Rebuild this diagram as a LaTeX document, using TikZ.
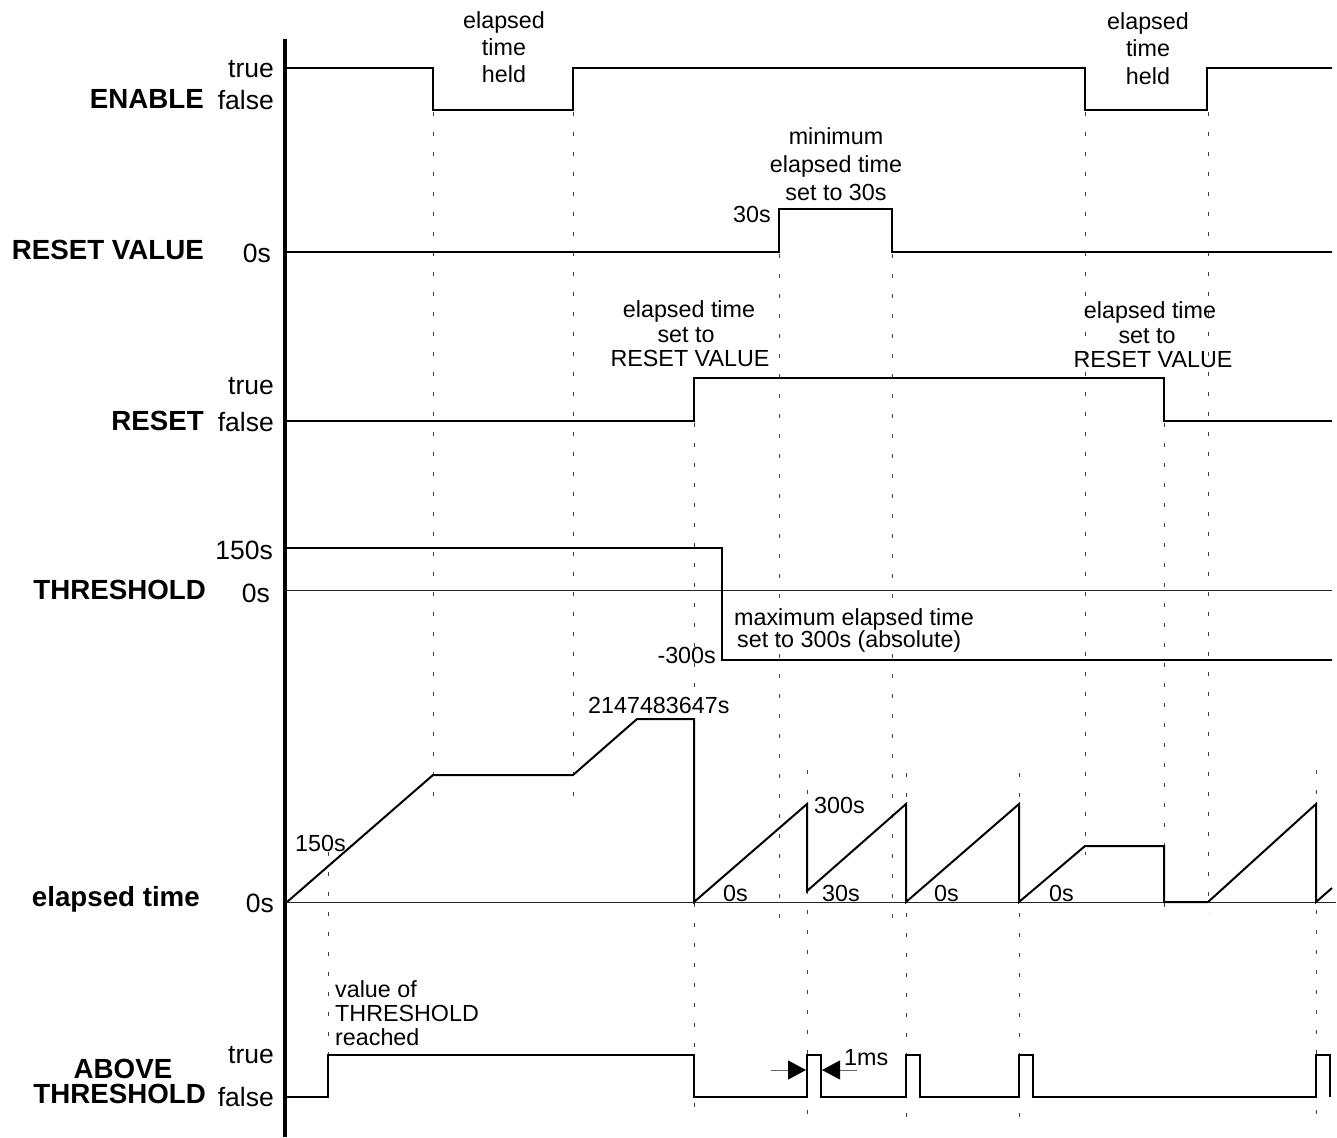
\documentclass[tikz,border=0pt]{standalone}
\usepackage{fontspec}
\setmainfont{Liberation Sans}
\usetikzlibrary{arrows.meta}
\begin{document}
\begin{tikzpicture}[x=1pt,y=-1pt,
  sig/.style={line width=2pt, line join=miter},
  zeroline/.style={line width=1pt, black!85},
  guide/.style={line width=1pt, dash pattern=on 4pt off 16pt, black!75},
  lbl/.style={font=\fontsize{23.3}{26}\selectfont, inner sep=0pt},
  lvl/.style={font=\fontsize{26.5}{30}\selectfont, inner sep=0pt},
  sname/.style={font=\fontsize{27.7}{30}\selectfont\bfseries, inner sep=0pt},
  dimarrow/.style={line width=1pt, black!60, -{Triangle[length=18pt,width=19pt,color=black]}}]
\useasboundingbox (0,0) rectangle (1337,1137);

% guide lines
\draw[guide] (328,852) -- (328,1110);
\draw[guide] (433,112) -- (433,798);
\draw[guide] (573,112) -- (573,798);
\draw[guide] (694,423) -- (694,1120);
\draw[guide] (779,254) -- (779,925);
\draw[guide] (807,770) -- (807,1123);
\draw[guide] (892,254) -- (892,927);
\draw[guide] (906,773) -- (906,1126);
\draw[guide] (1019,773) -- (1019,1126);
\draw[guide] (1085,112) -- (1085,855);
\draw[guide] (1164,423) -- (1164,912);
\draw[guide] (1208,112) -- (1208,912);
\draw[guide] (1316,770) -- (1316,1122);

% zero lines
\draw[zeroline] (287,590) -- (1332,590);
\draw[zeroline] (287,902) -- (1336,902);

% ENABLE
\draw[sig] (287,68) -- (433,68) -- (433,110) -- (573,110) -- (573,68) -- (1085,68) -- (1085,110) -- (1207,110) -- (1207,68) -- (1332,68);
% RESET VALUE
\draw[sig] (287,252) -- (779,252) -- (779,209) -- (892,209) -- (892,252) -- (1332,252);
% RESET
\draw[sig] (287,421) -- (694,421) -- (694,378) -- (1164,378) -- (1164,421) -- (1332,421);
% THRESHOLD
\draw[sig] (287,548) -- (722,548) -- (722,660) -- (1332,660);
% elapsed time
\draw[sig] (287,902) -- (433,775) -- (573,775) -- (637,719) -- (694,719) -- (694,902) -- (807,804) -- (807,891) -- (906,804) -- (906,902) -- (1019,804) -- (1019,902) -- (1085,846) -- (1164,846) -- (1164,902) -- (1208,902) -- (1316,804) -- (1316,902) -- (1332,888);
% ABOVE THRESHOLD
\draw[sig] (287,1097) -- (328,1097) -- (328,1055) -- (694,1055) -- (694,1097) -- (807,1097) -- (807,1055) -- (821,1055) -- (821,1097) -- (906,1097) -- (906,1055) -- (920,1055) -- (920,1097) -- (1019,1097) -- (1019,1055) -- (1033,1055) -- (1033,1097) -- (1316,1097) -- (1316,1055) -- (1330,1055) -- (1330,1097);

% axis
\draw[line width=4.5pt] (285,39) -- (285,1137);

% 1ms dimension
\coordinate (aL) at (771,1070);
\coordinate (pulseL) at (806,1070);
\coordinate (aR) at (857,1070);
\coordinate (pulseR) at (822,1070);
\draw[dimarrow] (aL) -- (pulseL);
\draw[dimarrow] (aR) -- (pulseR);
\node[lbl, anchor=base west] (t1ms) at (844,1065) {1ms};

% signal names
\node[sname, anchor=base east] (nEnable) at (204,109) {ENABLE};
\node[sname, anchor=base east] (nResetValue) at (204,259) {RESET VALUE};
\node[sname, anchor=base east] (nReset) at (204,430) {RESET};
\node[sname, anchor=base east] (nThreshold) at (206,599) {THRESHOLD};
\node[sname, anchor=base east] (nElapsed) at (200,906) {elapsed time};
\node[sname, anchor=base] (nAboveA) at (123,1078) {ABOVE};
\node[sname, anchor=base east] (nAboveB) at (206,1103) {THRESHOLD};

% level labels
\node[lvl, anchor=base east] (vEnT) at (274,78) {true};
\node[lvl, anchor=base east] (vEnF) at (274,110) {false};
\node[lvl, anchor=base east] (vRv0) at (271,262) {0s};
\node[lvl, anchor=base east] (vReT) at (274,394) {true};
\node[lvl, anchor=base east] (vReF) at (274,431) {false};
\node[lvl, anchor=base east] (vTh150) at (273,559) {150s};
\node[lvl, anchor=base east] (vTh0) at (270,602) {0s};
\node[lvl, anchor=base east] (vEl0) at (274,912) {0s};
\node[lvl, anchor=base east] (vAbT) at (274,1063) {true};
\node[lvl, anchor=base east] (vAbF) at (274,1106) {false};

% annotations
\node[lbl, anchor=base] (h1a) at (504,29) {elapsed};
\node[lbl, anchor=base] (h1b) at (504,56) {time};
\node[lbl, anchor=base] (h1c) at (504,83) {held};
\node[lbl, anchor=base] (h2a) at (1148,30) {elapsed};
\node[lbl, anchor=base] (h2b) at (1148,57) {time};
\node[lbl, anchor=base] (h2c) at (1148,85) {held};

\node[lbl, anchor=base] (m1) at (836,144) {minimum};
\node[lbl, anchor=base] (m2) at (836,172) {elapsed time};
\node[lbl, anchor=base] (m3) at (836,200) {set to 30s};
\node[lbl, anchor=base east] (rv30) at (771,222) {30s};

\node[lbl, anchor=base] (r1a) at (689,317) {elapsed time};
\node[lbl, anchor=base] (r1b) at (686,342) {set to};
\node[lbl, anchor=base] (r1c) at (690,366) {RESET VALUE};
\node[lbl, anchor=base] (r2a) at (1150,318) {elapsed time};
\node[lbl, anchor=base] (r2b) at (1147,343) {set to};
\node[lbl, anchor=base] (r2c) at (1153,367) {RESET VALUE};

\node[lbl, anchor=base west] (x1) at (734,625) {maximum elapsed time};
\node[lbl, anchor=base west] (x2) at (737,647) {set to 300s (absolute)};
\node[lbl, anchor=base east] (th300) at (716,663) {-300s};

\node[lbl, anchor=base west] (elMax) at (588,713) {2147483647s};
\node[lbl, anchor=base west] (el150) at (295,851) {150s};
\node[lbl, anchor=base west] (el300) at (814,813) {300s};
\node[lbl, anchor=base west] (el0a) at (723,901) {0s};
\node[lbl, anchor=base west] (el30) at (822,901) {30s};
\node[lbl, anchor=base west] (el0b) at (934,901) {0s};
\node[lbl, anchor=base west] (el0c) at (1049,901) {0s};

\node[lbl, anchor=base west] (v1) at (335,997) {value of};
\node[lbl, anchor=base west] (v2) at (335,1021) {THRESHOLD};
\node[lbl, anchor=base west] (v3) at (335,1045) {reached};
\end{tikzpicture}
\end{document}
